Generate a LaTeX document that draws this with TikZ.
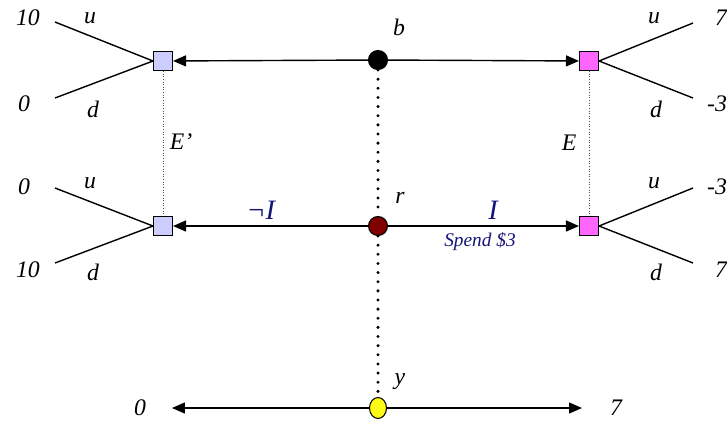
\documentclass[tikz,border=0pt]{standalone}
\usepackage{fontspec}
\setmainfont{Liberation Serif}
\usetikzlibrary{arrows.meta, shapes.geometric}
\definecolor{eqlav}{RGB}{204,204,255}
\definecolor{eqmag}{RGB}{255,102,255}
\definecolor{eqred}{RGB}{128,0,0}
\definecolor{eqyel}{RGB}{255,250,20}
\definecolor{eqnavy}{RGB}{20,20,120}
\begin{document}
\begin{tikzpicture}[x=0.02cm, y=-0.02cm,
  lsq/.style={rectangle, draw=black, fill=eqlav, minimum size=0.38cm, inner sep=0pt, line width=0.6pt},
  rsq/.style={rectangle, draw=black, fill=eqmag, minimum size=0.38cm, inner sep=0pt, line width=0.6pt},
  chance/.style={circle, draw=black, minimum size=0.38cm, inner sep=0pt, line width=0.6pt},
  lbl/.style={font=\fontsize{13.5}{15}\selectfont\itshape},
  act/.style={font=\fontsize{16}{18}\selectfont\itshape, text=eqnavy},
  arr/.style={-{Triangle[length=2.6mm, width=2.2mm]}, line width=0.8pt},
  branch/.style={line width=0.8pt},
  info/.style={densely dotted, line width=0.5pt, draw=black!70},
  bigdots/.style={line width=1.9pt, line cap=round, dash pattern=on 0pt off 5.2pt}
]
\useasboundingbox (0,0) rectangle (727,424);
% Chance and decision nodes
\node[chance, fill=black] (b) at (378,60) {};
\node[chance, fill=eqred] (r) at (378,226) {};
\node[ellipse, draw=black, fill=eqyel, minimum width=0.34cm, minimum height=0.42cm, inner sep=0pt, line width=0.6pt] (yn) at (378,408) {};
\node[lsq] (ltop) at (163,61) {};
\node[lsq] (lbot) at (163,226) {};
\node[rsq] (rtop) at (589,61) {};
\node[rsq] (rbot) at (589,226) {};
\node[lbl] (bl) at (399,27) {b};
\node[lbl] (rl) at (400,198) {r};
\node[lbl] (yl) at (400,382) {y};
% Branch ends
\coordinate (ltu) at (55,22);
\coordinate (ltd) at (55,98);
\coordinate (lbu) at (55,188);
\coordinate (lbd) at (55,263);
\coordinate (rtu) at (693,23);
\coordinate (rtd) at (693,98);
\coordinate (rbu) at (693,188);
\coordinate (rbd) at (693,263);
% Payoffs
\node[lbl] (p1) at (28,18) {10};
\node[lbl] (p2) at (24,104) {0};
\node[lbl] (p3) at (24,187) {0};
\node[lbl] (p4) at (28,270) {10};
\node[lbl] (p5) at (721,18) {7};
\node[lbl] (p6) at (717,104) {-3};
\node[lbl] (p7) at (717,187) {-3};
\node[lbl] (p8) at (721,270) {7};
\node[lbl] (p9) at (140,408) {0};
\node[lbl] (p10) at (616,408) {7};
% Moves u / d
\node[lbl] (u1) at (90,18) {u};
\node[lbl] (d1) at (93,109) {d};
\node[lbl] (u2) at (90,183) {u};
\node[lbl] (d2) at (93,272) {d};
\node[lbl] (u3) at (654,18) {u};
\node[lbl] (d3) at (656,109) {d};
\node[lbl] (u4) at (654,183) {u};
\node[lbl] (d4) at (656,272) {d};
% Information sets
\node[lbl] (ep) at (181,142) {E’};
\node[lbl] (e) at (569,143) {E};
\draw[info] (ltop) -- (lbot);
\draw[info] (rtop) -- (rbot);
% Arrows
\draw[arr] (b) -- (ltop);
\draw[arr] (b) -- (rtop);
\draw[arr] (r) -- node[act, above, pos=0.55] {¬I} (lbot);
\draw[arr] (r) -- node[act, above, pos=0.55] {I} node[below, font=\fontsize{11}{13}\selectfont\itshape, text=eqnavy, xshift=-2pt] {Spend \$3} (rbot);
\draw[arr] (yn) -- (172,408) coordinate (yleft);
\draw[arr] (yn) -- (582,408) coordinate (yright);
\draw[bigdots] (b) -- (r) -- (yn);
% Branches
\draw[branch] (ltop.west) -- (ltu);
\draw[branch] (ltop.west) -- (ltd);
\draw[branch] (lbot.west) -- (lbu);
\draw[branch] (lbot.west) -- (lbd);
\draw[branch] (rtop.east) -- (rtu);
\draw[branch] (rtop.east) -- (rtd);
\draw[branch] (rbot.east) -- (rbu);
\draw[branch] (rbot.east) -- (rbd);
\end{tikzpicture}
\end{document}
